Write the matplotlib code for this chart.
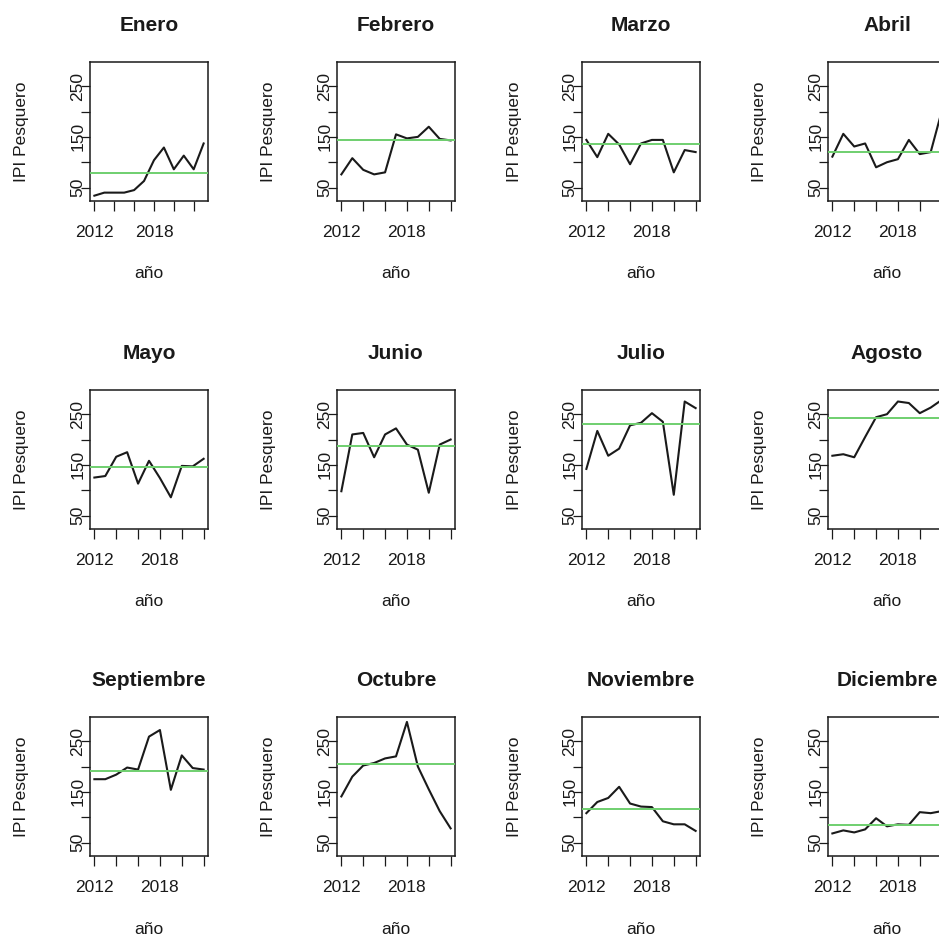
import numpy as np
import matplotlib.pyplot as plt

plt.rcParams['font.family'] = ['Liberation Sans', 'DejaVu Sans']

meses = ["Enero", "Febrero", "Marzo", "Abril", "Mayo", "Junio",
         "Julio", "Agosto", "Septiembre", "Octubre", "Noviembre", "Diciembre"]
anios = list(range(2012, 2024))

# IPI pesquero por mes
enero = [34, 40, 40, 40, 45, 63, 104, 129, 86, 113, 86, 137]
febrero = [76, 108, 85, 76, 80, 155, 147, 150, 170, 146, 143]
marzo = [144, 110, 156, 135, 96, 137, 144, 144, 80, 124, 120]
abril = [111, 156, 131, 137, 90, 100, 106, 144, 116, 120, 200]
mayo = [125, 128, 166, 175, 113, 158, 124, 86, 148, 147, 162]
junio = [98, 210, 213, 165, 210, 222, 190, 180, 95, 190, 200]
julio = [142, 217, 168, 182, 228, 233, 252, 235, 91, 275, 262]
agosto = [168, 171, 165, 205, 244, 250, 275, 272, 252, 263, 278]
septiembre = [175, 175, 184, 198, 194, 259, 272, 154, 222, 197, 194]
octubre = [141, 180, 202, 207, 216, 220, 288, 200, 155, 112, 78]
noviembre = [108, 130, 138, 160, 127, 121, 120, 92, 86, 86, 73]
diciembre = [68, 74, 70, 76, 98, 82, 86, 85, 110, 108, 112]

series = [enero, febrero, marzo, abril, mayo, junio,
          julio, agosto, septiembre, octubre, noviembre, diciembre]
medias = [78.5, 144, 135, 120, 145, 187, 230, 243, 192, 204, 117, 85]

W, H = 939, 936
fig = plt.figure(figsize=(W / 100, H / 100), dpi=100)

lefts = [90, 337, 582, 828]
tops = [62, 390, 717]
bw, bh = 118, 139

for i, (mes, vals, media) in enumerate(zip(meses, series, medias)):
    r, c = divmod(i, 4)
    ax = fig.add_axes([lefts[c] / W, 1 - (tops[r] + bh) / H, bw / W, bh / H])
    x = anios[:len(vals)]
    ax.plot(x, vals, color='#1a1a1a', lw=1.5, zorder=2)
    ax.axhline(media, color='#6fcf6f', lw=1.4, zorder=3)

    rng = x[-1] - x[0]
    ax.set_xlim(x[0] - 0.04 * rng, x[-1] + 0.04 * rng)
    ax.set_ylim(23.5, 297.7)

    ax.set_xticks(range(2012, 2023, 2))
    ax.set_xticklabels(['2012', '', '', '2018', '', ''], fontsize=12.5)
    ax.set_yticks([50, 100, 150, 200, 250])
    ax.set_yticklabels(['50', '', '150', '', '250'], fontsize=12.5,
                       rotation=90, va='center')
    ax.tick_params(axis='x', length=7, width=0.9, pad=10, colors='#1a1a1a')
    ax.tick_params(axis='y', length=6.5, width=0.9, pad=-3, colors='#1a1a1a')
    for s in ax.spines.values():
        s.set_linewidth(1.1)
        s.set_color('#1a1a1a')

    ax.set_title(mes, fontsize=15, fontweight='bold', pad=22, color='#1a1a1a')
    ax.set_xlabel('año', fontsize=12.5, color='#1a1a1a', va='center')
    ax.xaxis.set_label_coords(0.5, -73 / bh)
    ax.set_ylabel('IPI Pesquero', fontsize=12.5, color='#1a1a1a', va='center')
    ax.yaxis.set_label_coords(-68 / bw, 0.5)

fig.savefig('out.png', dpi=100)
